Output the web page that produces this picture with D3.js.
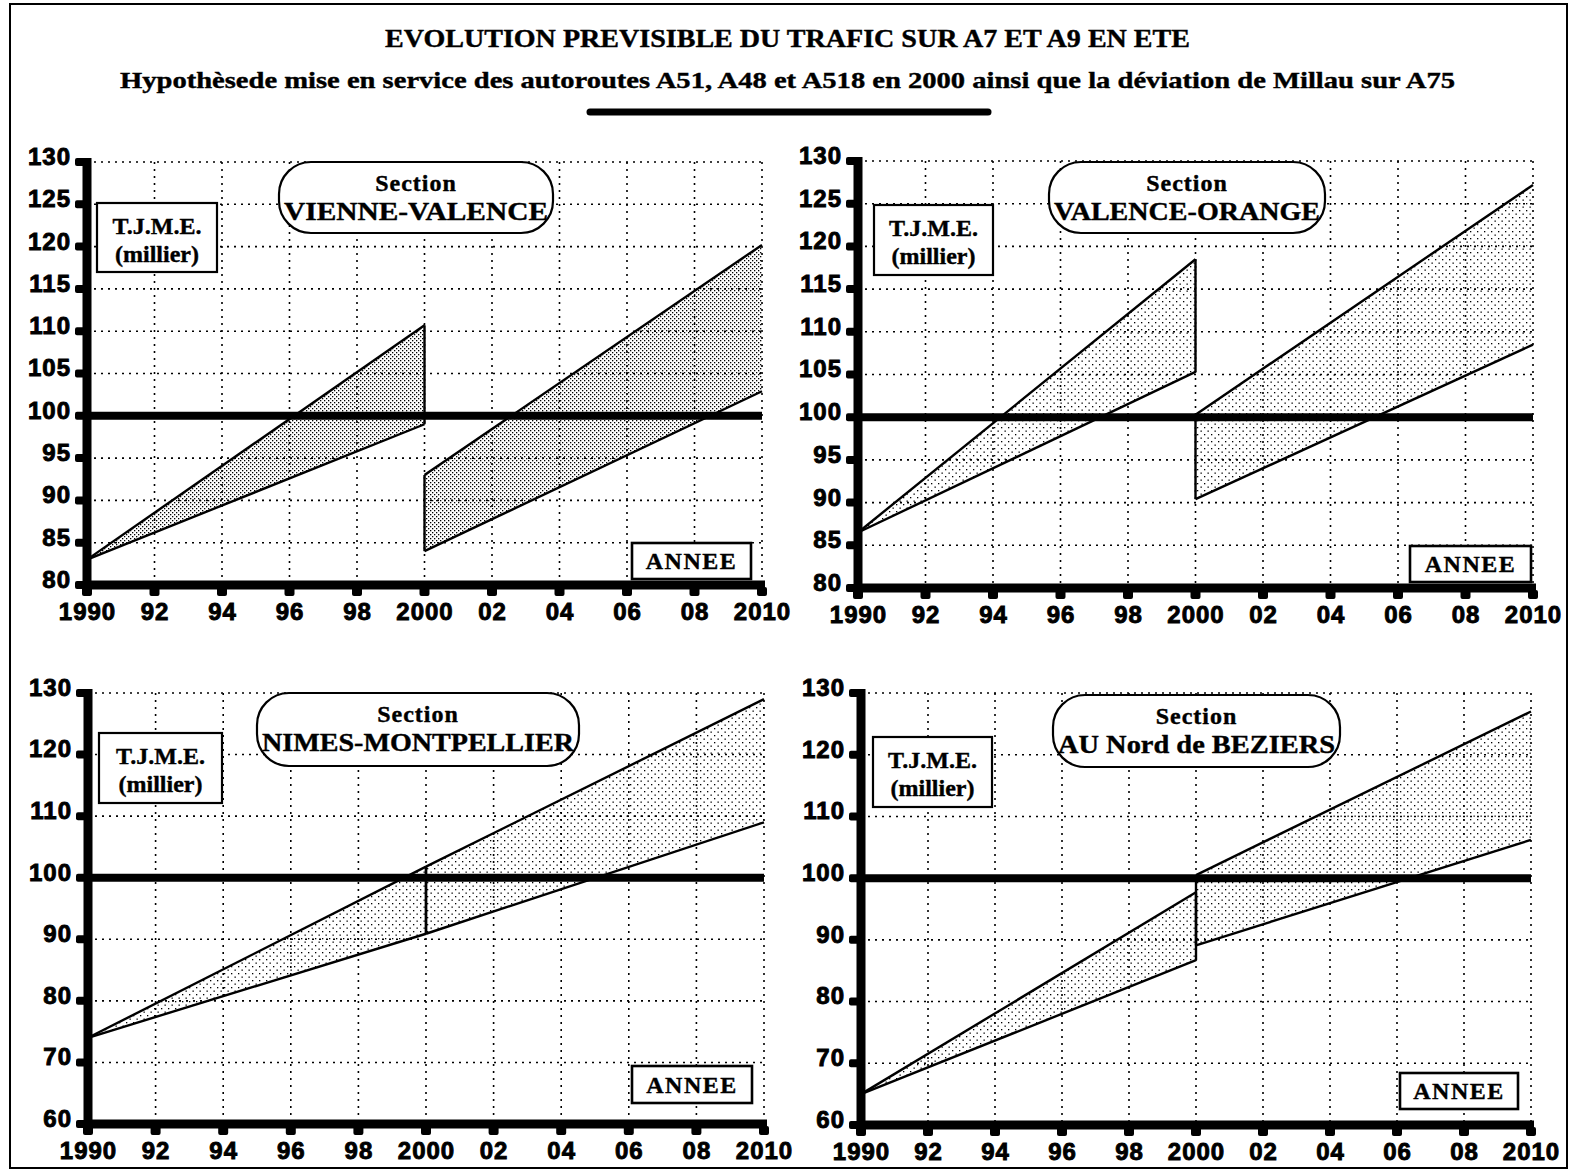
<!DOCTYPE html>
<meta charset="utf-8">
<script src="https://d3js.org/d3.v7.min.js"></script>
<style>
  body { margin: 0; background: #fff; }
  svg text { fill: #000; }
  .tick-num { font-family: "Liberation Sans", Arial, sans-serif; font-weight: bold; font-size: 24px;
              stroke: #000; stroke-width: 0.9px; }
  .serif { font-family: "Liberation Serif", "Times New Roman", serif; font-weight: bold;
           stroke: #000; stroke-width: 0.4px; }
</style>
<div id="chart"></div>
<script>

// ---- data ----
var sections = ["VIENNE-VALENCE", "VALENCE-ORANGE", "NIMES-MONTPELLIER", "AU Nord de BEZIERS"];

var yearsBefore = [1990, 2000];
var yearsAfter = [2000, 2010];

// T.J.M.E. (thousands) at 1990 and 2000, before the new motorways
var upperBefore = [[83, 110.7], [86.5, 118.5], [74, 101.8], [65, 97.7]];
var lowerBefore = [[83, 99], [86.5, 105.3], [74, 90.9], [65, 86.7]];
// at 2000 and 2010, after
var upperAfter = [[93, 120.2], [100.3, 127.2], [101.8, 129], [100.5, 127]];
var lowerAfter = [[84, 102.9], [90.4, 108.5], [90.9, 109], [89.1, 106.2]];

var xTickYears = [1990, 1992, 1994, 1996, 1998, 2000, 2002, 2004, 2006, 2008, 2010];
var xTickLabels = ["1990", "92", "94", "96", "98", "2000", "02", "04", "06", "08", "2010"];
var yTicksTop = [80, 85, 90, 95, 100, 105, 110, 115, 120, 125, 130];
var yTicksBottom = [60, 70, 80, 90, 100, 110, 120, 130];

// ---- layout ----
var W = 1581, H = 1175;
var panels = [
  {x0: 87, x1: 762, yTop: 162, yBot: 585, yMin: 80, ticks: yTicksTop, dense: true,
   sec: [279, 162, 274, 71], tjme: [97, 203, 120, 69], annee: [632, 543, 119, 36]},
  {x0: 858, x1: 1533, yTop: 161, yBot: 588, yMin: 80, ticks: yTicksTop, dense: false,
   sec: [1049, 162, 276, 71], tjme: [874, 205, 119, 70], annee: [1410, 546, 121, 36]},
  {x0: 88, x1: 764, yTop: 693, yBot: 1124, yMin: 60, ticks: yTicksBottom, dense: false,
   sec: [257, 693, 322, 73], tjme: [99, 733, 123, 70], annee: [632, 1066, 120, 37]},
  {x0: 861, x1: 1531, yTop: 693, yBot: 1125, yMin: 60, ticks: yTicksBottom, dense: false,
   sec: [1053, 695, 287, 72], tjme: [873, 737, 119, 70], annee: [1400, 1073, 118, 36]}
];

var svg = d3.select("#chart").append("svg")
    .attr("width", W)
    .attr("height", H);

// stipple patterns
var defs = svg.append("defs");
var pd = defs.append("pattern").attr("id", "dotsDense")
    .attr("patternUnits", "userSpaceOnUse").attr("width", 4).attr("height", 4);
pd.append("rect").attr("x", 0).attr("y", 0).attr("width", 1.3).attr("height", 1.3).attr("fill", "#000");
pd.append("rect").attr("x", 2).attr("y", 2).attr("width", 1.3).attr("height", 1.3).attr("fill", "#000");
var pl = defs.append("pattern").attr("id", "dotsLight")
    .attr("patternUnits", "userSpaceOnUse").attr("width", 7).attr("height", 7);
pl.append("rect").attr("x", 0).attr("y", 0).attr("width", 1.3).attr("height", 1.3).attr("fill", "#000");
pl.append("rect").attr("x", 3.5).attr("y", 3.5).attr("width", 1.3).attr("height", 1.3).attr("fill", "#000");

// frame
svg.append("rect")
    .attr("x", 10).attr("y", 4).attr("width", 1557).attr("height", 1164)
    .attr("fill", "none").attr("stroke", "#000").attr("stroke-width", 2);

// titles
svg.append("text").attr("class", "serif")
    .attr("x", 385).attr("y", 47)
    .attr("textLength", 805).attr("lengthAdjust", "spacingAndGlyphs")
    .style("font-size", "25px")
    .text("EVOLUTION PREVISIBLE DU TRAFIC SUR A7 ET A9 EN ETE");
svg.append("text").attr("class", "serif")
    .attr("x", 120).attr("y", 88)
    .attr("textLength", 1335).attr("lengthAdjust", "spacingAndGlyphs")
    .style("font-size", "24px")
    .text("Hypothèsede mise en service des autoroutes A51, A48 et A518 en 2000 ainsi que la déviation de Millau sur A75");
svg.append("line")
    .attr("x1", 590).attr("x2", 988).attr("y1", 112).attr("y2", 112)
    .attr("stroke", "#000").attr("stroke-width", 7).attr("stroke-linecap", "round");

panels.forEach(function(p, i) {
  var x = d3.scaleLinear().domain([1990, 2010]).range([p.x0, p.x1]);
  var y = d3.scaleLinear().domain([p.yMin, 130]).range([p.yBot, p.yTop]);
  var g = svg.append("g");

  // dotted grid
  g.selectAll(".vgrid").data(xTickYears.slice(1)).enter().append("line")
      .attr("x1", d => x(d)).attr("x2", d => x(d))
      .attr("y1", y(130)).attr("y2", y(p.yMin))
      .attr("stroke", "#000").attr("stroke-width", 1.6).attr("stroke-dasharray", "2,5");
  g.selectAll(".hgrid").data(p.ticks.slice(1)).enter().append("line")
      .attr("x1", x(1990)).attr("x2", x(2010))
      .attr("y1", d => y(d)).attr("y2", d => y(d))
      .attr("stroke", "#000").attr("stroke-width", 1.6).attr("stroke-dasharray", "2,5");

  // shaded bands
  var fillId = p.dense ? "url(#dotsDense)" : "url(#dotsLight)";
  var band = function(years, up, lo) {
    return [[x(years[0]), y(up[0])], [x(years[1]), y(up[1])],
            [x(years[1]), y(lo[1])], [x(years[0]), y(lo[0])]];
  };
  var area = d3.line();
  g.append("path").attr("d", area(band(yearsBefore, upperBefore[i], lowerBefore[i])) + "Z")
      .attr("fill", fillId);
  g.append("path").attr("d", area(band(yearsAfter, upperAfter[i], lowerAfter[i])) + "Z")
      .attr("fill", fillId);

  // 100 reference line
  g.append("line")
      .attr("x1", x(1990)).attr("x2", x(2010))
      .attr("y1", y(100)).attr("y2", y(100))
      .attr("stroke", "#000").attr("stroke-width", 8);

  // series lines
  var seg = function(years, vals) {
    return area(years.map(function(yr, k) { return [x(yr), y(vals[k])]; }));
  };
  [[yearsBefore, upperBefore[i]], [yearsBefore, lowerBefore[i]],
   [yearsAfter, upperAfter[i]], [yearsAfter, lowerAfter[i]]].forEach(function(s) {
    g.append("path").attr("d", seg(s[0], s[1]))
        .attr("fill", "none").attr("stroke", "#000").attr("stroke-width", 2.4);
  });
  // vertical edges at 2000
  [[upperBefore[i][1], lowerBefore[i][1]], [upperAfter[i][0], lowerAfter[i][0]]].forEach(function(v) {
    g.append("line")
        .attr("x1", x(2000)).attr("x2", x(2000))
        .attr("y1", y(v[0])).attr("y2", y(v[1]))
        .attr("stroke", "#000").attr("stroke-width", 2.4);
  });

  // axes
  g.append("line")
      .attr("x1", x(1990)).attr("x2", x(1990))
      .attr("y1", y(130) - 4).attr("y2", y(p.yMin) + 4)
      .attr("stroke", "#000").attr("stroke-width", 9);
  g.append("line")
      .attr("x1", x(1990) - 4).attr("x2", x(2010) + 3)
      .attr("y1", y(p.yMin)).attr("y2", y(p.yMin))
      .attr("stroke", "#000").attr("stroke-width", 9);
  g.selectAll(".ytk").data(p.ticks).enter().append("rect")
      .attr("x", x(1990) - 12).attr("y", d => y(d) - 4)
      .attr("width", 10).attr("height", 8).attr("rx", 2).attr("fill", "#000");
  g.selectAll(".xtk").data(xTickYears).enter().append("rect")
      .attr("x", d => x(d) - 5).attr("y", y(p.yMin) + 2)
      .attr("width", 10).attr("height", 9).attr("rx", 2).attr("fill", "#000");

  var xa = g.append("g")
      .attr("transform", "translate(0," + (y(p.yMin) + 10) + ")")
      .call(d3.axisBottom(x).tickValues(xTickYears)
            .tickFormat(function(d, k) { return xTickLabels[k]; }).tickSize(0));
  xa.select(".domain").remove();
  xa.selectAll("text").attr("class", "tick-num").attr("dy", "0.9em")
      .style("letter-spacing", "1px");

  var ya = g.append("g")
      .attr("transform", "translate(" + (x(1990) - 14) + ",0)")
      .call(d3.axisLeft(y).tickValues(p.ticks).tickSize(0).tickPadding(2));
  ya.select(".domain").remove();
  ya.selectAll("text").attr("class", "tick-num").attr("dy", "0.1em")
      .style("letter-spacing", "1px");

  // section label pill
  var s = p.sec;
  g.append("rect")
      .attr("x", s[0]).attr("y", s[1]).attr("width", s[2]).attr("height", s[3])
      .attr("rx", 32).attr("ry", 32)
      .attr("fill", "#fff").attr("stroke", "#000").attr("stroke-width", 2.2);
  g.append("text").attr("class", "serif")
      .attr("x", s[0] + s[2] / 2).attr("y", s[1] + 29)
      .attr("text-anchor", "middle").style("font-size", "24px")
      .style("letter-spacing", "1px")
      .text("Section");
  g.append("text").attr("class", "serif")
      .attr("x", s[0] + s[2] / 2).attr("y", s[1] + 58)
      .attr("text-anchor", "middle").style("font-size", "25px")
      .attr("textLength", s[2] - 10).attr("lengthAdjust", "spacingAndGlyphs")
      .text(sections[i]);

  // unit label box
  var t = p.tjme;
  g.append("rect")
      .attr("x", t[0]).attr("y", t[1]).attr("width", t[2]).attr("height", t[3])
      .attr("fill", "#fff").attr("stroke", "#000").attr("stroke-width", 2.2);
  g.append("text").attr("class", "serif")
      .attr("x", t[0] + t[2] / 2).attr("y", t[1] + 31)
      .attr("text-anchor", "middle").style("font-size", "24px")
      .text("T.J.M.E.");
  g.append("text").attr("class", "serif")
      .attr("x", t[0] + t[2] / 2).attr("y", t[1] + 59)
      .attr("text-anchor", "middle").style("font-size", "24px")
      .text("(millier)");

  // year label box
  var a = p.annee;
  g.append("rect")
      .attr("x", a[0]).attr("y", a[1]).attr("width", a[2]).attr("height", a[3])
      .attr("fill", "#fff").attr("stroke", "#000").attr("stroke-width", 2.6);
  g.append("text").attr("class", "serif")
      .attr("x", a[0] + a[2] / 2).attr("y", a[1] + a[3] / 2 + 8)
      .attr("text-anchor", "middle").style("font-size", "24px")
      .style("letter-spacing", "1.5px")
      .text("ANNEE");
});

</script>
